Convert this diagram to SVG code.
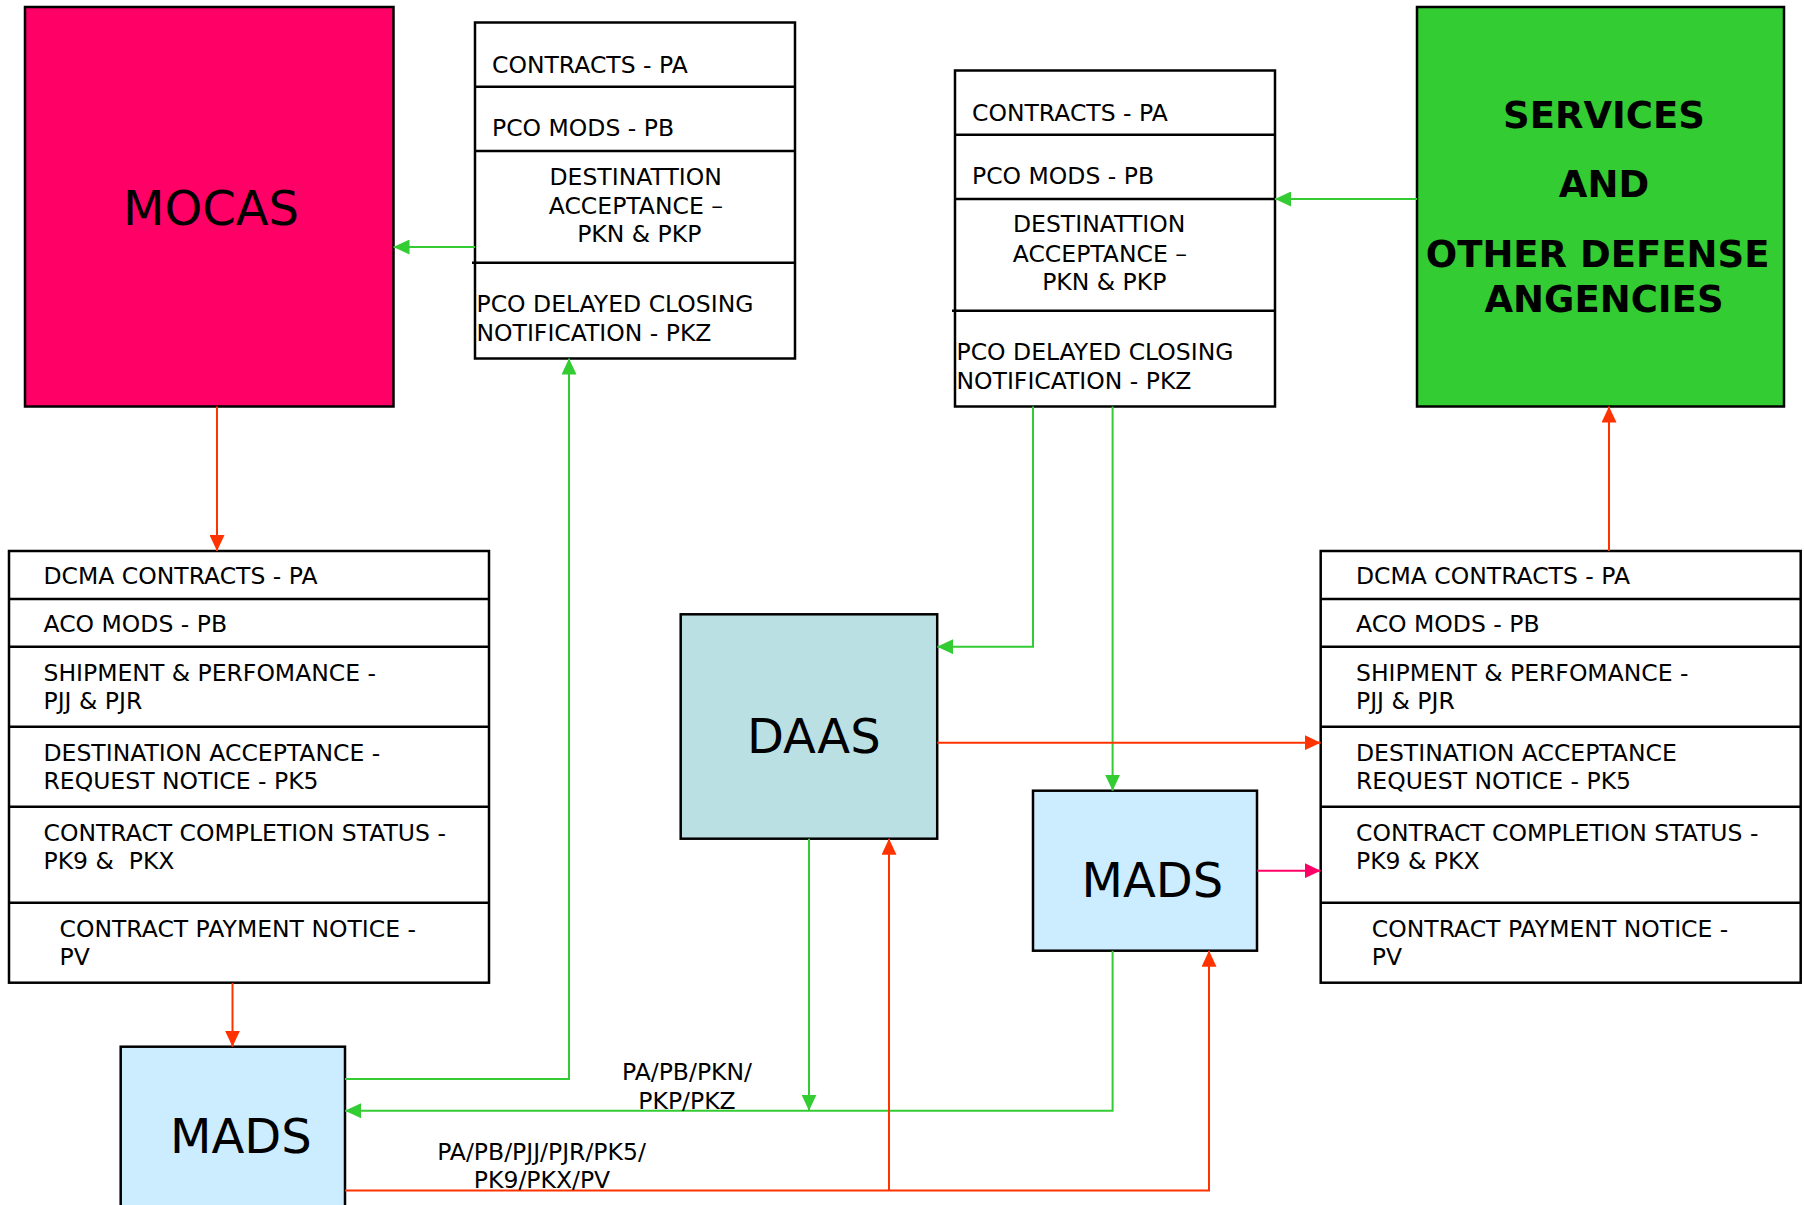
<svg xmlns="http://www.w3.org/2000/svg" width="1804" height="1205" viewBox="0 0 1804 1205">
<style>
text{font-family:"DejaVu Sans","Liberation Sans",sans-serif;fill:#000;white-space:pre}
.t{font-size:23.5px}
.big{font-size:48px}
.bold{font-size:37px;font-weight:bold;text-anchor:middle}
.lbl{font-size:23.5px;text-anchor:middle}
.box{stroke:#000;stroke-width:2.5}
.div{stroke:#000;stroke-width:2.5;fill:none}
.g{stroke:#33CC33;stroke-width:2;fill:none;marker-end:url(#ag)}
.r{stroke:#FF3300;stroke-width:2;fill:none;marker-end:url(#ar)}
.p{stroke:#FF0066;stroke-width:2;fill:none;marker-end:url(#ap)}
</style>
<defs>
<marker id="ag" markerUnits="userSpaceOnUse" markerWidth="16" markerHeight="15" refX="16" refY="7.5" orient="auto"><path d="M0,0 L16,7.5 L0,15 z" fill="#33CC33"/></marker>
<marker id="ar" markerUnits="userSpaceOnUse" markerWidth="16" markerHeight="15" refX="16" refY="7.5" orient="auto"><path d="M0,0 L16,7.5 L0,15 z" fill="#FF3300"/></marker>
<marker id="ap" markerUnits="userSpaceOnUse" markerWidth="16" markerHeight="15" refX="16" refY="7.5" orient="auto"><path d="M0,0 L16,7.5 L0,15 z" fill="#FF0066"/></marker>
</defs>
<rect width="1804" height="1205" fill="#fff"/>

<g id="mocas">
<rect class="box" x="25" y="7" width="368.5" height="399.5" fill="#FF0066"/>
<text class="big" x="123" y="225">MOCAS</text>
</g>

<g id="services">
<rect class="box" x="1417" y="7" width="367" height="399.5" fill="#33CC33"/>
<text class="bold" x="1604" y="127.7">SERVICES</text>
<text class="bold" x="1604" y="197.3">AND</text>
<text class="bold" x="1604" y="266.7">OTHER DEFENSE </text>
<text class="bold" x="1604" y="311.7">ANGENCIES</text>
</g>

<g id="pco-table-left">
<rect class="box" x="475" y="22.5" width="320" height="336" fill="#fff"/>
<path class="div" d="M475,86.7 H795 M475,151 H795 M472,262.7 H795"/>
<text class="t" x="492" y="73.3">CONTRACTS - PA</text>
<text class="t" x="492" y="135.7">PCO MODS - PB</text>
<text class="t" x="549.5" y="184.5">DESTINATTION</text>
<text class="t" x="548.8" y="213.5">ACCEPTANCE –</text>
<text class="t" x="577.2" y="242">PKN &amp; PKP</text>
<text class="t" x="476.5" y="311.7">PCO DELAYED CLOSING</text>
<text class="t" x="476.5" y="341">NOTIFICATION - PKZ</text>
</g>

<g id="pco-table-mid">
<rect class="box" x="955" y="70.5" width="320" height="336" fill="#fff"/>
<path class="div" d="M955,134.7 H1275 M955,199 H1275 M952,310.7 H1275"/>
<text class="t" x="972" y="121.3">CONTRACTS - PA</text>
<text class="t" x="972" y="183.7">PCO MODS - PB</text>
<text class="t" x="1013" y="232">DESTINATTION</text>
<text class="t" x="1012.8" y="261.5">ACCEPTANCE –</text>
<text class="t" x="1042.2" y="290">PKN &amp; PKP</text>
<text class="t" x="956.5" y="360">PCO DELAYED CLOSING</text>
<text class="t" x="956.5" y="389">NOTIFICATION - PKZ</text>
</g>

<g id="dcma-table-left">
<rect class="box" x="9" y="551" width="480" height="431.7" fill="#fff"/>
<path class="div" d="M9,599 H489 M9,646.7 H489 M9,726.7 H489 M9,806.7 H489 M9,902.7 H489"/>
<text class="t" x="43.5" y="584">DCMA CONTRACTS - PA</text>
<text class="t" x="43.5" y="632">ACO MODS - PB</text>
<text class="t" x="43.5" y="680.5">SHIPMENT &amp; PERFOMANCE -</text>
<text class="t" x="43.5" y="709">PJJ &amp; PJR</text>
<text class="t" x="43.5" y="760.5">DESTINATION ACCEPTANCE -</text>
<text class="t" x="43.5" y="789">REQUEST NOTICE - PK5</text>
<text class="t" x="43.5" y="840.5">CONTRACT COMPLETION STATUS -</text>
<text class="t" x="43.5" y="869">PK9 &amp;  PKX</text>
<text class="t" x="59.5" y="936.5">CONTRACT PAYMENT NOTICE -</text>
<text class="t" x="59.5" y="965">PV</text>
</g>

<g id="dcma-table-right">
<rect class="box" x="1320.7" y="551" width="480" height="431.7" fill="#fff"/>
<path class="div" d="M1320.7,599 H1800.7 M1320.7,646.7 H1800.7 M1320.7,726.7 H1800.7 M1320.7,806.7 H1800.7 M1320.7,902.7 H1800.7"/>
<text class="t" x="1356" y="584">DCMA CONTRACTS - PA</text>
<text class="t" x="1356" y="632">ACO MODS - PB</text>
<text class="t" x="1356" y="680.5">SHIPMENT &amp; PERFOMANCE -</text>
<text class="t" x="1356" y="709">PJJ &amp; PJR</text>
<text class="t" x="1356" y="760.5">DESTINATION ACCEPTANCE</text>
<text class="t" x="1356" y="789">REQUEST NOTICE - PK5</text>
<text class="t" x="1356" y="840.5">CONTRACT COMPLETION STATUS -</text>
<text class="t" x="1356" y="869">PK9 &amp; PKX</text>
<text class="t" x="1371.8" y="936.5">CONTRACT PAYMENT NOTICE -</text>
<text class="t" x="1371.8" y="965">PV</text>
</g>

<g id="daas">
<rect class="box" x="680.7" y="614.3" width="256.5" height="224.4" fill="#BBE0E3"/>
<text class="big" x="747" y="753.3">DAAS</text>
</g>

<g id="mads-right">
<rect class="box" x="1033" y="790.7" width="224" height="160" fill="#CCECFF"/>
<text class="big" x="1081.5" y="896.7">MADS</text>
</g>

<g id="mads-left">
<rect class="box" x="120.7" y="1046.7" width="224.3" height="180" fill="#CCECFF"/>
<text class="big" x="170" y="1153.3">MADS</text>
</g>

<g id="connectors">
<path class="r" d="M217,406.5 V551"/>
<path class="r" d="M232.5,983 V1046.7"/>
<path class="g" d="M475,247 H393.5"/>
<path class="g" d="M345,1079 H569 V358.5"/>
<path class="g" d="M1417,199 H1275"/>
<path class="g" d="M1033,406.5 V646.7 H937.2"/>
<path class="g" d="M1112.6,406.5 V790.7"/>
<path class="r" d="M1609,551 V406.5"/>
<path class="r" d="M937.2,742.7 H1320.7"/>
<path class="p" d="M1257,870.7 H1320.7"/>
<path class="g" d="M809,838.7 V1110.7"/>
<path class="g" d="M1112.6,950.7 V1110.7 H345"/>
<path class="r" d="M345,1190.5 H1209 V950.7"/>
<path class="r" d="M889,1190.5 V838.7"/>
<text class="lbl" x="687" y="1080">PA/PB/PKN/</text>
<text class="lbl" x="687" y="1109">PKP/PKZ</text>
<text class="lbl" x="541.5" y="1160">PA/PB/PJJ/PJR/PK5/</text>
<text class="lbl" x="542" y="1188">PK9/PKX/PV</text>
</g>
</svg>
